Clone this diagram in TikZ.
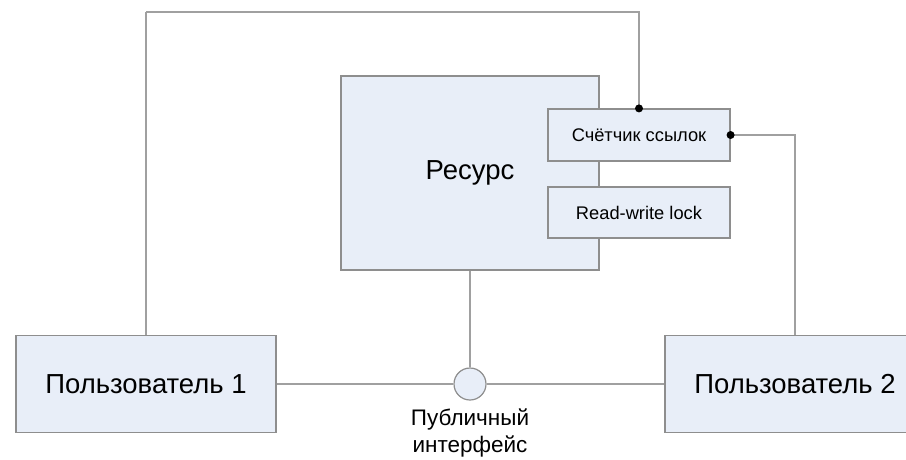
\documentclass[tikz,border=0pt]{standalone}
\usepackage{fontspec}
\setmainfont{Liberation Sans}
\usetikzlibrary{positioning}
\definecolor{boxfill}{HTML}{E8EEF8}
\definecolor{boxline}{HTML}{8E8E8E}
\definecolor{wire}{HTML}{A0A0A0}
\begin{document}
\begin{tikzpicture}[x=1pt,y=-1pt]
  \useasboundingbox (0,0) rectangle (906,459);
  \begin{scope}[every node/.style={draw=boxline,line width=1.2pt,fill=boxfill,inner sep=0pt}]
  \node[minimum width=258pt,minimum height=194pt,font=\fontsize{27.5}{33}\selectfont] (res) at (470,173) {Ресурс};
  \node[minimum width=182pt,minimum height=52pt,font=\fontsize{18.3}{22}\selectfont] (cnt) at (639,135) {Счётчик ссылок};
  \node[minimum width=182pt,minimum height=51pt,font=\fontsize{18.3}{22}\selectfont] (rw) at (639,212.5) {Read-write lock};
  \node[minimum width=260pt,minimum height=97pt,font=\fontsize{27.5}{33}\selectfont] (u1) at (146,384) {Пользователь 1};
  \node[minimum width=260pt,minimum height=97pt,font=\fontsize{27.5}{33}\selectfont] (u2) at (795,384) {Пользователь 2};
  \node[circle,minimum size=32pt] (pub) at (470,384) {};
  \end{scope}
  \node[below=8pt of pub,align=center,inner sep=0pt,font=\fontsize{22.5}{27}\selectfont] (publbl) {Публичный\\интерфейс};
  \coordinate (top) at (146,12);
  \begin{scope}[every edge/.style={draw=wire,line width=1.2pt}]
  \path (res.south) edge (pub.north);
  \path (u1.east) edge (pub.west);
  \path (pub.east) edge (u2.west);
  \path (u1.north) edge (top);
  \end{scope}
  \draw[wire,line width=1.2pt] (top) -| (cnt.north);
  \draw[wire,line width=1.2pt] (u2.north) |- (cnt.east);
  \fill (cnt.north) circle (4pt);
  \fill (cnt.east) circle (4pt);
\end{tikzpicture}
\end{document}
